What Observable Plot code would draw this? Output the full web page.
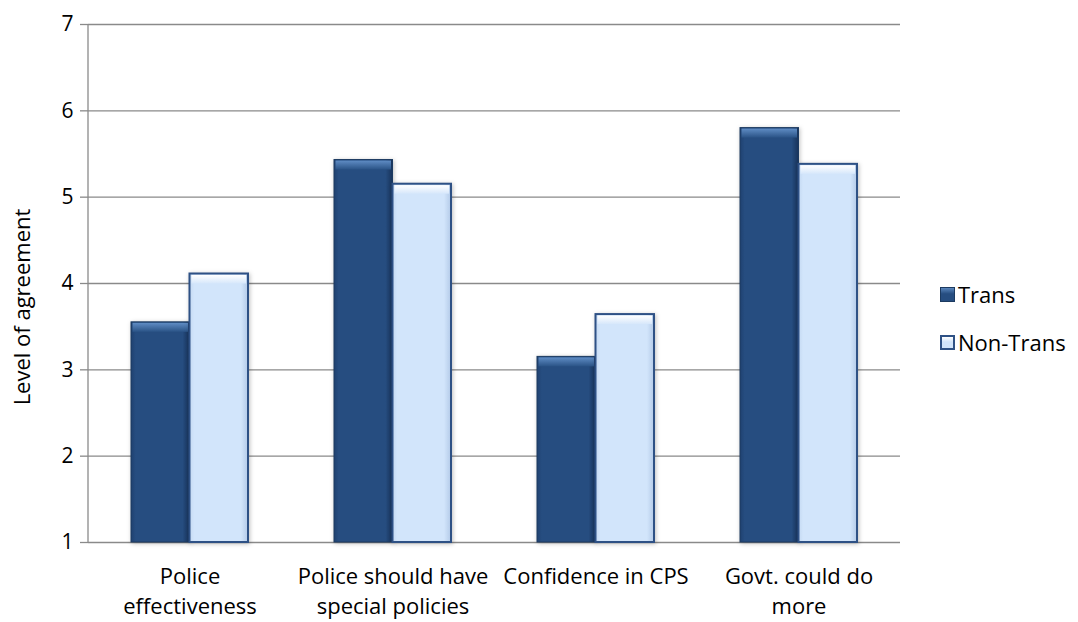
<!DOCTYPE html>
<html>
<head>
<meta charset="utf-8">
<script src="https://cdn.jsdelivr.net/npm/d3@7"></script>
<script src="https://cdn.jsdelivr.net/npm/@observablehq/plot@0.6"></script>
<style>
  body { margin: 0; background: #fff; font-family: "Open Sans", Lato, sans-serif; }
  #chart { position: relative; width: 1078px; height: 622px; }
  #ylabel {
    position: absolute; left: 21px; top: 307px;
    transform: translate(-50%, -50%) rotate(-90deg);
    font-size: 22px; color: #000; white-space: nowrap; line-height: 1;
  }
  .legend { position: absolute; left: 940px; display: flex; align-items: center; font-size: 22px; color: #000; line-height: 1; }
  .legend .sw { width: 15px; height: 15px; margin-right: 3px; box-sizing: border-box; }
  .sw.trans { background: linear-gradient(#5a86bd, #264d80 45%); border: 1px solid #1c3a60; }
  .sw.nontrans { background: linear-gradient(#ffffff, #d1e4fa 45%); border: 2px solid #2e5185; }
</style>
</head>
<body>
<div id="chart"></div>
<script>
// Survey means per statement, two respondent groups
const categories = [
  "Police\neffectiveness",
  "Police should have\nspecial policies",
  "Confidence in CPS",
  "Govt. could do\nmore"
];
const seriesNames = ["Trans", "Non-Trans"];
const trans = [3.55, 5.43, 3.15, 5.80];
const nonTrans = [4.11, 5.15, 3.64, 5.38];
const yTicks = [1, 2, 3, 4, 5, 6, 7];
const axisTitle = "Level of agreement";

const rows = categories.map((c, i) => ({category: c, trans: trans[i], nonTrans: nonTrans[i]}));

const halfBar = 58.5;
const gridColor = "#8a8a8a";

// y axis line along the left edge of the frame
function leftAxisLine(index, scales, values, dimensions) {
  const line = document.createElementNS("http://www.w3.org/2000/svg", "line");
  const x = dimensions.marginLeft;
  line.setAttribute("x1", x);
  line.setAttribute("x2", x);
  line.setAttribute("y1", dimensions.marginTop);
  line.setAttribute("y2", dimensions.height - dimensions.marginBottom);
  line.setAttribute("stroke", gridColor);
  line.setAttribute("stroke-width", 1.3);
  return line;
}

const plot = Plot.plot({
  width: 1078,
  height: 622,
  marginLeft: 88,
  marginRight: 178,
  marginTop: 24,
  marginBottom: 80,
  style: {fontFamily: "'Open Sans', Lato, sans-serif", fontSize: "22px", color: "#000", background: "#fff"},
  x: {domain: categories, paddingInner: 0.4236, paddingOuter: 0.2118, axis: null},
  y: {domain: [1, 7], ticks: yTicks, axis: null},
  marks: [
    Plot.ruleY(yTicks, {stroke: gridColor, strokeWidth: 1.3, strokeOpacity: 1}),
    Plot.axisY({ticks: yTicks, tickSize: 8, tickPadding: 7, stroke: gridColor, strokeWidth: 1.3, strokeOpacity: 1, fontSize: 21, label: null, tickFormat: d3.format("d")}),
    leftAxisLine,
    // Trans bars
    Plot.barY(rows, {x: "category", y1: () => 1, y2: "trans", insetRight: halfBar, fill: "url(#gradTrans)", stroke: "#1c3a60", strokeWidth: 1}),
    Plot.barY(rows, {x: "category", y1: "trans", y2: "trans", insetRight: halfBar + 1.5, insetLeft: 1.5, insetTop: 1, insetBottom: -10, fill: "url(#bevelTrans)"}),
    // Non-Trans bars
    Plot.barY(rows, {x: "category", y1: () => 1, y2: "nonTrans", insetLeft: halfBar, fill: "url(#gradNonTrans)", stroke: "#2e5185", strokeWidth: 2}),
    Plot.barY(rows, {x: "category", y1: "nonTrans", y2: "nonTrans", insetLeft: halfBar + 2, insetRight: 2, insetTop: 1.5, insetBottom: -10, fill: "url(#bevelNonTrans)"}),
    // category labels under the axis
    Plot.text(categories, {x: d => d, text: d => d, frameAnchor: "bottom", lineAnchor: "top", dy: 20, lineHeight: 1.38, fontSize: 22, fill: "#000"})
  ]
});

// gradients used by the bar fills
const defs = document.createElementNS("http://www.w3.org/2000/svg", "defs");
defs.innerHTML = `
  <linearGradient id="gradTrans" x1="0" x2="1" y1="0" y2="0">
    <stop offset="0" stop-color="#1f4170"/>
    <stop offset="0.08" stop-color="#264d80"/>
    <stop offset="0.88" stop-color="#264d80"/>
    <stop offset="1" stop-color="#18335a"/>
  </linearGradient>
  <linearGradient id="bevelTrans" x1="0" x2="0" y1="0" y2="1">
    <stop offset="0" stop-color="#5f8cc4"/>
    <stop offset="1" stop-color="#2a5386"/>
  </linearGradient>
  <linearGradient id="gradNonTrans" x1="0" x2="1" y1="0" y2="0">
    <stop offset="0" stop-color="#c4d9f2"/>
    <stop offset="0.08" stop-color="#d2e5fb"/>
    <stop offset="0.88" stop-color="#d2e5fb"/>
    <stop offset="1" stop-color="#b3cae8"/>
  </linearGradient>
  <linearGradient id="bevelNonTrans" x1="0" x2="0" y1="0" y2="1">
    <stop offset="0" stop-color="#ffffff"/>
    <stop offset="1" stop-color="#d6e7fb"/>
  </linearGradient>`;
plot.insertBefore(defs, plot.firstChild);

// soft shadow behind the bar bodies
plot.querySelectorAll('g[aria-label="bar"]').forEach((g, i) => {
  if (i === 0 || i === 2) g.style.filter = "drop-shadow(1px 1px 2px rgba(0,0,0,0.25))";
});

const chart = document.getElementById("chart");
chart.appendChild(plot);

const yl = document.createElement("div");
yl.id = "ylabel";
yl.textContent = axisTitle;
chart.appendChild(yl);

const legendTops = [283, 331];
seriesNames.forEach((name, i) => {
  const item = document.createElement("div");
  item.className = "legend";
  item.style.top = legendTops[i] + "px";
  const sw = document.createElement("div");
  sw.className = "sw " + (i === 0 ? "trans" : "nontrans");
  const label = document.createElement("span");
  label.textContent = name;
  item.appendChild(sw);
  item.appendChild(label);
  chart.appendChild(item);
});
</script>
</body>
</html>
